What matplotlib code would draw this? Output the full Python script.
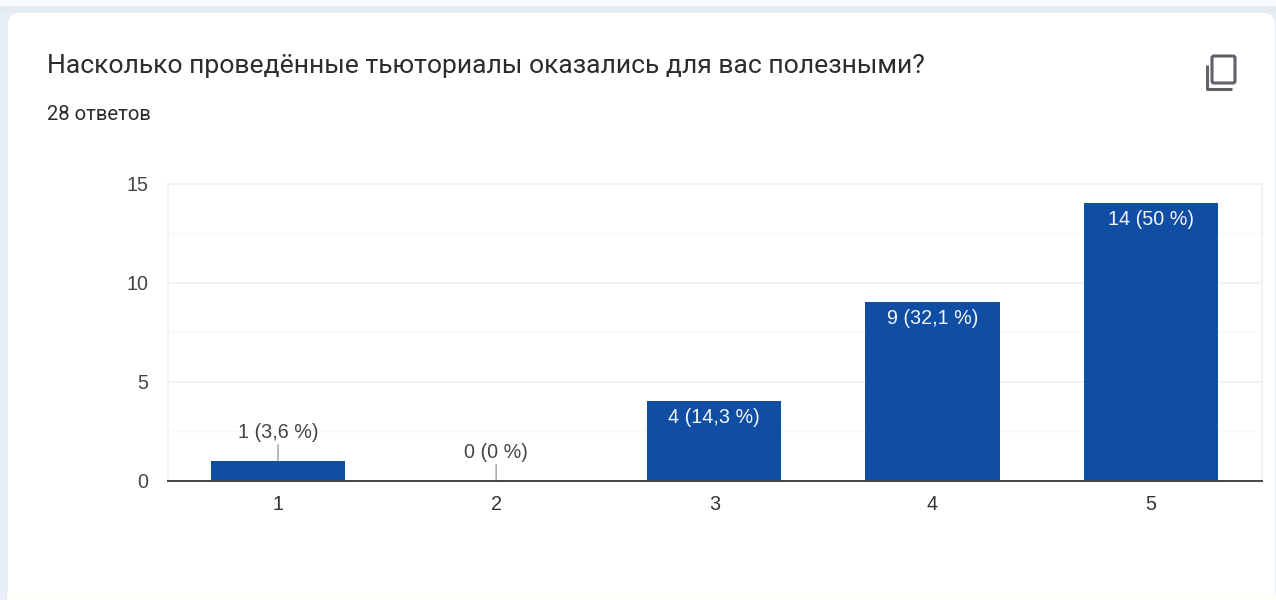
import matplotlib
matplotlib.use('Agg')
import matplotlib.pyplot as plt
from matplotlib.patches import FancyBboxPatch, Rectangle

W, H = 1276, 600

# данные
categories = [1, 2, 3, 4, 5]
counts = [1, 0, 4, 9, 14]
bar_labels = ['1 (3,6 %)', '0 (0 %)', '4 (14,3 %)', '9 (32,1 %)', '14 (50 %)']
major_ticks = [0, 5, 10, 15]
minor_ticks = [2.5, 7.5, 12.5]
title = 'Насколько проведённые тьюториалы оказались для вас полезными?'
subtitle = '28 ответов'

plt.rcParams['font.family'] = ['Liberation Sans', 'DejaVu Sans']

fig = plt.figure(figsize=(W / 100, H / 100), dpi=100, facecolor='#e9eff8')

# фон-карточка на всю фигуру, в пикселях
bg = fig.add_axes([0, 0, 1, 1])
bg.set_xlim(0, W)
bg.set_ylim(H, 0)
bg.axis('off')
bg.add_patch(Rectangle((0, 0), W, 6, fc='#f8fafc', ec='none'))
bg.add_patch(Rectangle((0, 6), W, 6, fc='#e4eaf1', ec='none'))
bg.add_patch(FancyBboxPatch((19, 24), W - 31, H, boxstyle='round,pad=12,rounding_size=14',
                            fc='white', ec='#e4eaf1', lw=1))
bg.add_patch(Rectangle((7, 594), W, 6, fc='#fffef8', ec='none'))
bg.text(47, 66, title, fontsize=19.05, color='#2b2c2e', va='center', ha='left', family=['Roboto', 'DejaVu Sans'])
bg.text(47, 114, subtitle, fontsize=14.6, color='#2b2c2e', va='center', ha='left', family=['Roboto', 'DejaVu Sans'])

# значок копирования
bg.add_patch(FancyBboxPatch((1212, 56), 23, 27, boxstyle='round,pad=0,rounding_size=2',
                            fc='none', ec='#5f6368', lw=2.2))
bg.plot([1207, 1207, 1232], [65, 89, 89], color='#5f6368', lw=2.2, solid_capstyle='butt')

# график
ax = fig.add_axes([168 / W, 1 - 480.5 / H, (1262 - 168) / W, (480.5 - 183.5) / H])
ax.patch.set_alpha(0)
ax.set_xlim(0.496, 5.51)
ax.set_ylim(0, 15)

ax.set_yticks(major_ticks)
ax.set_yticks(minor_ticks, minor=True)
ax.set_xticks(categories)
ax.grid(axis='y', which='major', color='#f0f0f0', lw=1.2)
ax.grid(axis='y', which='minor', color='#f9f9f9', lw=1)
ax.set_axisbelow(True)

bars = ax.bar(categories, counts, width=0.615, color='#0f4ea3', zorder=2)

for x, n, lab in zip(categories, counts, bar_labels):
    if n >= 4:
        ax.annotate(lab, (x, n), xytext=(0, -4.5), textcoords='offset points', ha='center', va='top',
                    color='#f4f6fa', fontsize=14.2, zorder=3)
    else:
        # короткая линия-выноска над низкими столбиками
        ax.annotate(lab, (x, n), xytext=(0, 13.5), textcoords='offset points', ha='center', va='bottom',
                    color='#444444', fontsize=14.2, zorder=3,
                    arrowprops=dict(arrowstyle='-', color='#999999', lw=1, shrinkA=0, shrinkB=0))

for side in ['top', 'right', 'left']:
    ax.spines[side].set_color('#f0f0f0')
    ax.spines[side].set_linewidth(1.2)
ax.spines['bottom'].set_color('#444444')
ax.spines['bottom'].set_linewidth(1.4)
ax.spines['bottom'].set_zorder(4)

ax.tick_params(axis='both', which='both', length=0)
ax.tick_params(axis='x', pad=10.5, labelsize=14.2, labelcolor='#333333')
ax.tick_params(axis='y', pad=14, labelsize=14.2, labelcolor='#444444')

fig.savefig('out.png', dpi=100)
